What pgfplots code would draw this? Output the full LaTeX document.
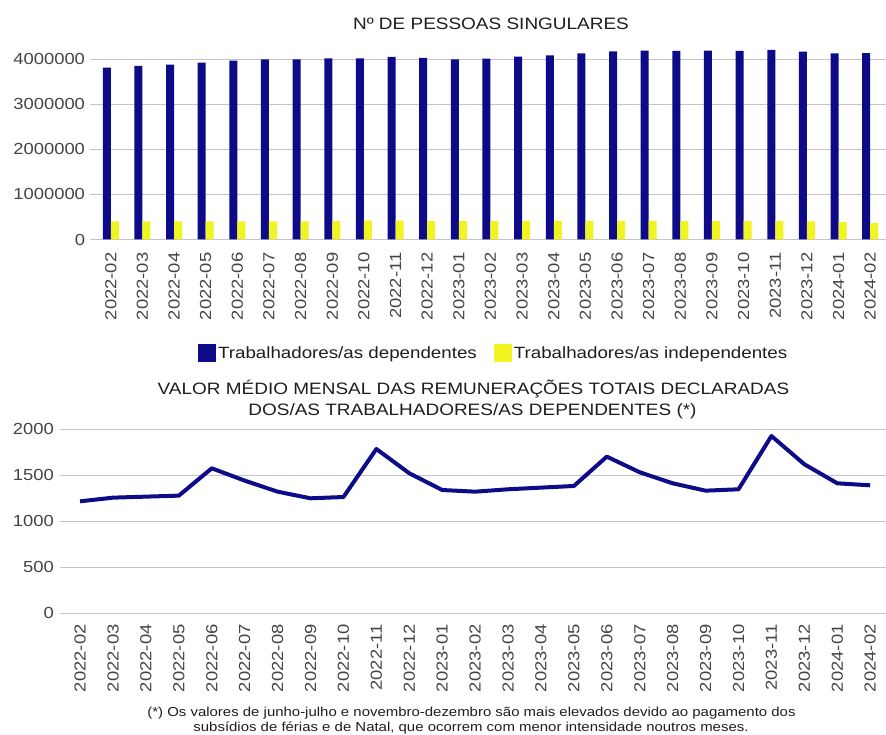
\documentclass[border=0pt]{standalone}
\usepackage{fontspec}
\setmainfont[FakeStretch=1.15]{Liberation Sans}
\usepackage{pgfplots}
\pgfplotsset{compat=1.18}
\definecolor{navy}{HTML}{0D0B87}
\definecolor{yel}{HTML}{F0F521}
\definecolor{gridc}{HTML}{C4C4C4}
\definecolor{tickc}{HTML}{444444}
\definecolor{txtc}{HTML}{1E1E1E}
\pgfplotsset{
  common/.style={
    scale only axis,
    axis line style={draw=none},
    major tick length=0pt,
    tick style={draw=none},
    ymajorgrids,
    grid style={gridc, line width=1pt},
    tick label style={font=\fontsize{16}{19}\selectfont, text=tickc},
    /pgf/number format/assume math mode=true,
    scaled y ticks=false,
    xtick={0,...,24},
    xticklabels={2022-02,2022-03,2022-04,2022-05,2022-06,2022-07,2022-08,2022-09,2022-10,2022-11,2022-12,2023-01,2023-02,2023-03,2023-04,2023-05,2023-06,2023-07,2023-08,2023-09,2023-10,2023-11,2023-12,2024-01,2024-02},
    xticklabel style={rotate=90, anchor=east, inner sep=0pt},
    yticklabel style={anchor=east, inner sep=0pt},
  }
}
\begin{document}
\begin{tikzpicture}[x=1pt,y=1pt]
\useasboundingbox (0pt,0pt) rectangle (886pt,734pt);

\begin{axis}[common,
  at={(90.2pt,494.5pt)}, anchor=south west,
  width=795.8pt, height=193.7pt,
  xmin=-0.65, xmax=24.5, ymin=0, ymax=4300000,
  ybar=0pt, bar width=8pt,
  ytick={0,1000000,2000000,3000000,4000000},
  yticklabels={0,1000000,2000000,3000000,4000000},
  xticklabel shift=13pt,
  yticklabel shift=5pt,
  legend style={at={(0.507,-0.586)}, anchor=center, draw=none, fill=none,
    font=\fontsize{16.3}{19}\selectfont, text=txtc, inner sep=0pt,
    /tikz/every even column/.append style={column sep=15pt}},
  legend columns=2,
]
\addplot[fill=navy, draw=none, legend image code/.code={\fill[navy] (-5pt,-9pt) rectangle (13pt,9pt);}] coordinates {
(0,3815000) (1,3852000) (2,3881000) (3,3926000) (4,3970000) (5,4000000) (6,3998000) (7,4022000) (8,4022000) (9,4052000) (10,4030000)
(11,4000000) (12,4015000) (13,4059000) (14,4089000) (15,4133000) (16,4178000) (17,4193000) (18,4185000) (19,4193000) (20,4185000) (21,4207000) (22,4170000)
(23,4130000) (24,4135000)};
\addplot[fill=yel, draw=none, legend image code/.code={\fill[yel] (-5pt,-9pt) rectangle (13pt,9pt);}] coordinates {
(0,405000) (1,405000) (2,405000) (3,405000) (4,405000) (5,405000) (6,405000) (7,408000) (8,418000) (9,418000) (10,410000)
(11,410000) (12,410000) (13,412000) (14,413000) (15,413000) (16,413000) (17,413000) (18,410000) (19,410000) (20,410000) (21,408000) (22,400000)
(23,385000) (24,362000)};
\legend{Trabalhadores/as dependentes, Trabalhadores/as independentes}
\end{axis}

\begin{axis}[common,
  at={(60pt,120.7pt)}, anchor=south west,
  width=826pt, height=184pt,
  xmin=-0.61, xmax=24.48, ymin=0, ymax=2000,
  ytick={0,500,1000,1500,2000},
  yticklabels={0,500,1000,1500,2000},
  xticklabel shift=11pt,
  yticklabel shift=6pt,
  clip=false,
]
\addplot[navy, line width=4pt, line join=round] coordinates {
(0,1217) (1,1257) (2,1268) (3,1279) (4,1576) (5,1442) (6,1322) (7,1250) (8,1264) (9,1786) (10,1522)
(11,1340) (12,1322) (13,1348) (14,1366) (15,1384) (16,1703) (17,1533) (18,1413) (19,1333) (20,1348) (21,1927) (22,1620)
(23,1413) (24,1391)};
\end{axis}

\node[anchor=base, font=\fontsize{16.5}{19}\selectfont, text=txtc, inner sep=0pt] at (491pt,704pt) {Nº DE PESSOAS SINGULARES};
\node[anchor=base, font=\fontsize{16.5}{19}\selectfont, text=txtc, inner sep=0pt] at (473.5pt,339pt) {VALOR MÉDIO MENSAL DAS REMUNERAÇÕES TOTAIS DECLARADAS};
\node[anchor=base, font=\fontsize{16.5}{19}\selectfont, text=txtc, inner sep=0pt] at (472.5pt,318pt) {DOS/AS TRABALHADORES/AS DEPENDENTES (*)};
\node[anchor=base, font=\fontsize{13}{15}\selectfont, text=txtc, inner sep=0pt] at (471.5pt,17.5pt) {(*) Os valores de junho-julho e novembro-dezembro são mais elevados devido ao pagamento dos};
\node[anchor=base, font=\fontsize{13}{15}\selectfont, text=txtc, inner sep=0pt] at (471pt,3pt) {subsídios de férias e de Natal, que ocorrem com menor intensidade noutros meses.};
\end{tikzpicture}
\end{document}
